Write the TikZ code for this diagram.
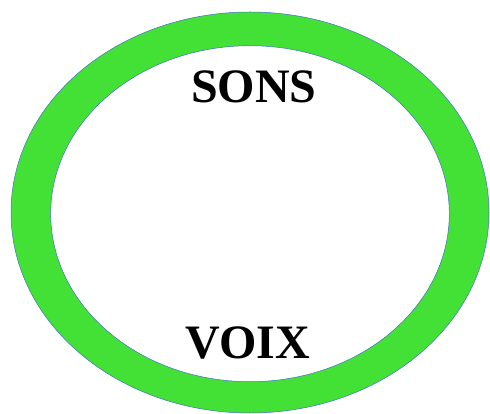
\documentclass[tikz,border=0pt]{standalone}
\usepackage{fontspec}
\setmainfont{Liberation Serif}
\usetikzlibrary{positioning}
\definecolor{ringgreen}{RGB}{67,224,53}
\definecolor{ringblue}{RGB}{68,114,196}

\begin{document}
\begin{tikzpicture}[x=1pt,y=1pt,
    ringtext/.style={font=\fontsize{48}{52}\selectfont\bfseries, inner sep=0pt, anchor=base}]
            \useasboundingbox (0,0) rectangle (490,-414);

            % green ring
            \fill[ringgreen, even odd rule] (250,-212.5) ellipse [x radius=239, y radius=200.5]
                                            (250,-213.7) ellipse [x radius=199.3, y radius=168];
            \draw[ringblue, line width=0.5pt] (250,-212.5) ellipse [x radius=239, y radius=200.5];
            \draw[ringblue, line width=0.5pt] (250,-213.7) ellipse [x radius=199.3, y radius=168];

            % labels
            \node[ringtext] (sons) at (254,-103) {SONS};
            \node[ringtext] (voix) at (248,-358) {VOIX};
          \end{tikzpicture}
\end{document}
